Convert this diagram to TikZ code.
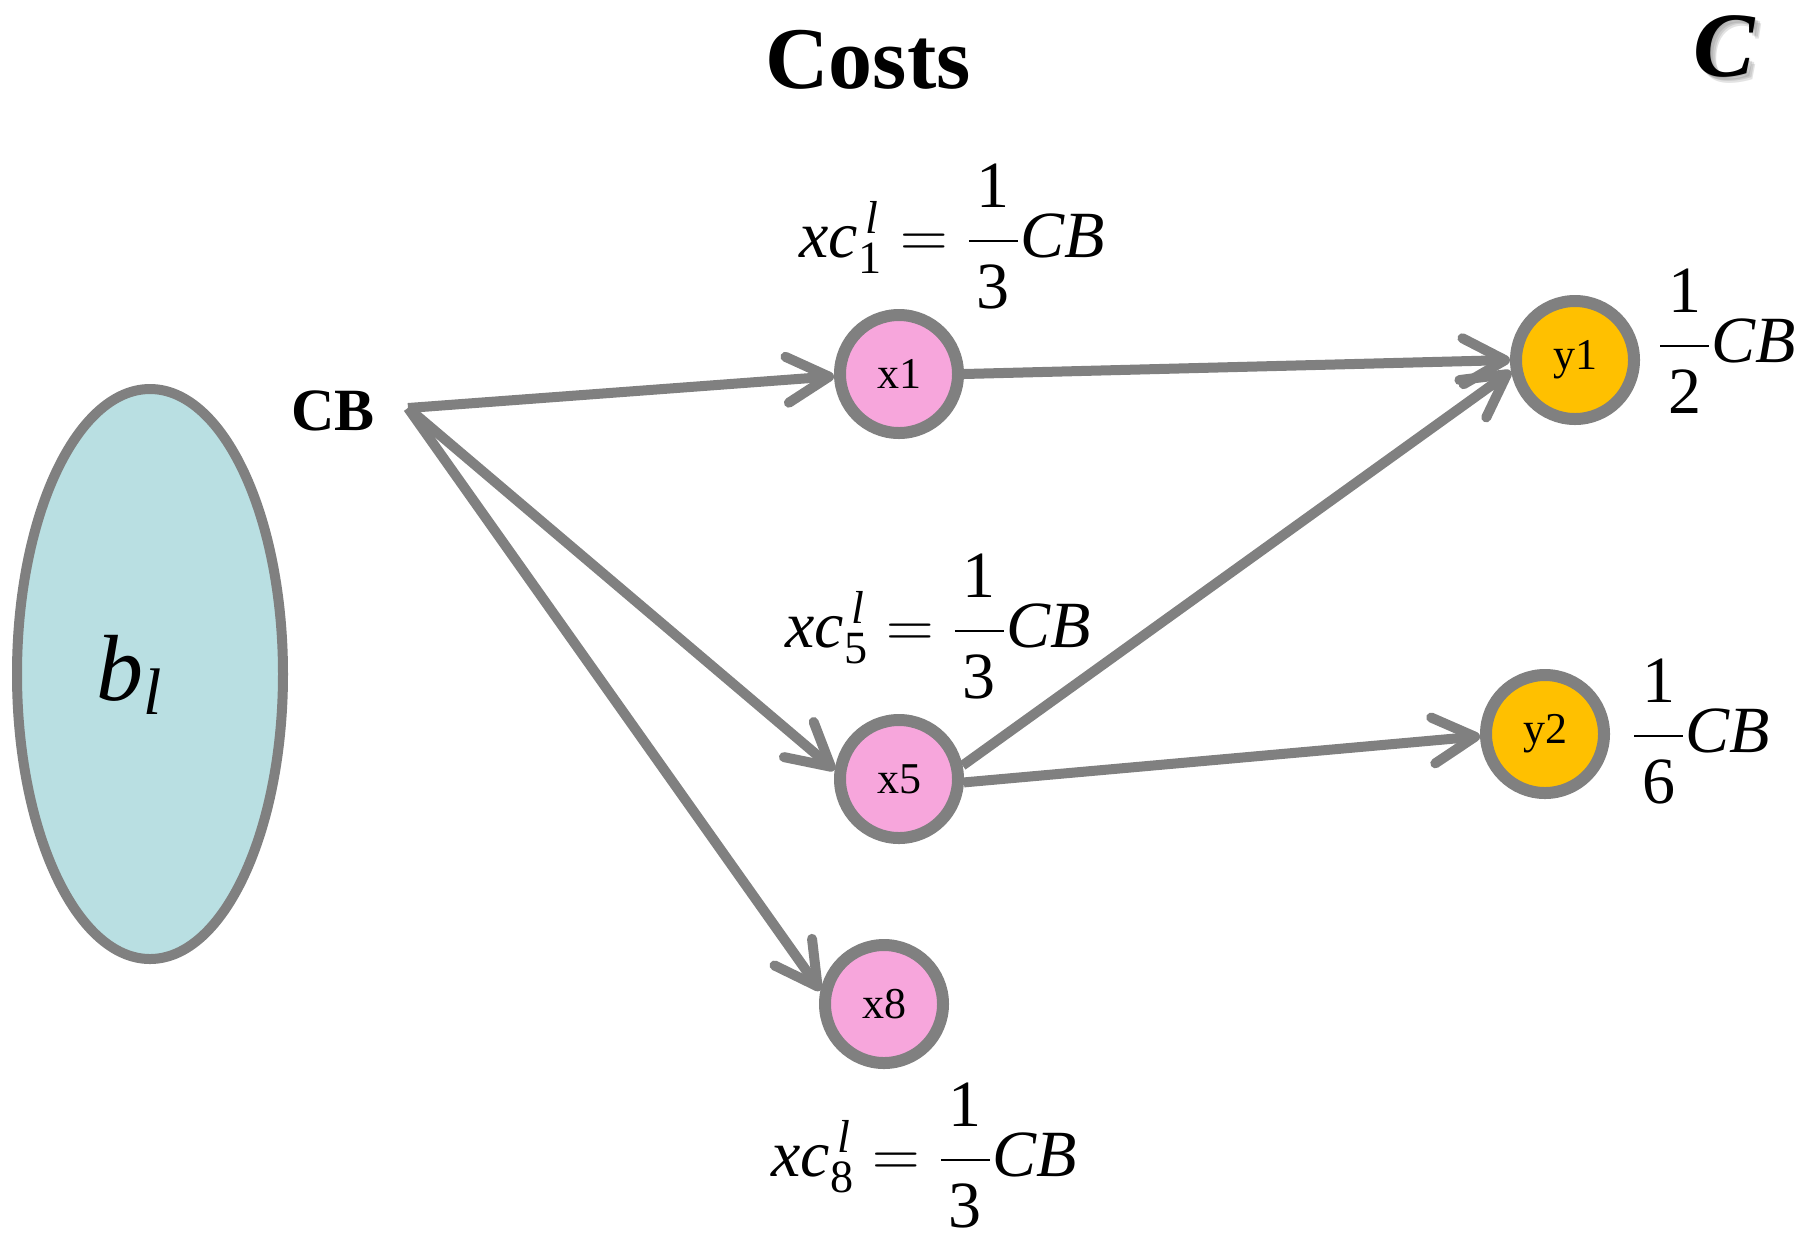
\RequirePackage{fix-cm}
\documentclass[tikz,border=0pt]{standalone}
\usepackage{amsmath}
\usepackage{fontspec}
\setmainfont{Liberation Serif}
\usetikzlibrary{arrows.meta,shapes.geometric}
\definecolor{edgegray}{HTML}{808080}
\definecolor{nodepink}{HTML}{F7A6DC}
\definecolor{nodegold}{HTML}{FFC000}
\definecolor{blobblue}{HTML}{B9DFE2}
\newcommand{\fml}{\fontsize{33}{38}\selectfont}
\newcommand{\numr}[1]{\raisebox{2.5pt}{\hspace{4pt}\textup{#1}\hspace{4pt}}}
\newcommand{\denr}[1]{\raisebox{-3pt}{\hspace{4pt}\textup{#1}\hspace{4pt}}}
\newcommand{\xclab}[1]{$\textit{xc}^{\,\textit{l}}_{\textup{#1}}=\dfrac{\numr{1}}{\denr{3}}\textit{CB}$}
\newcommand{\frlab}[1]{$\dfrac{\numr{1}}{\denr{#1}}\textit{CB}$}
\begin{document}
\begin{tikzpicture}[x=0.5pt,y=-0.5pt,
  vnode/.style={circle, draw=edgegray, line width=6pt, minimum size=59pt, inner sep=0pt,
    font=\fontsize{22}{26}\selectfont},
  xnode/.style={vnode, fill=nodepink},
  ynode/.style={vnode, fill=nodegold},
  edge/.style={draw=edgegray, line width=5pt,
    -{Straight Barb[length=21pt,width=23pt,round]}},
  formula/.style={anchor=base, inner sep=0pt, font=\fml}]
\useasboundingbox (0,0) rectangle (1803,1244);

% titles
\node (costs) [anchor=base, inner sep=0pt, font=\fontsize{44}{50}\selectfont\bfseries] at (868,88) {Costs};
\foreach \d in {1,2,3,4}{
  \node[anchor=base, inner sep=0pt, text=black!60, opacity=0.18,
    font=\fontsize{46}{52}\selectfont\bfseries\itshape] at (1724+\d*1.6,76+\d*1.6) {C};
}
\node (ctitle) [anchor=base, inner sep=0pt, font=\fontsize{46}{52}\selectfont\bfseries\itshape] at (1724,76) {C};

% ellipse
\node (blob) [ellipse, draw=edgegray, line width=5pt, fill=blobblue, minimum width=133pt, minimum height=285pt, inner sep=0pt] at (150,674) {};
\node (bltext) [anchor=base, inner sep=0pt, font=\fontsize{47}{54}\selectfont] at (130,700) {$\textit{b}_{\textit{l}}$};

% CB source
\node (cb) [anchor=base, inner sep=0pt, font=\fontsize{30}{34}\selectfont\bfseries] at (333,430) {CB};
\coordinate (cbpt) at (408,408);

% nodes
\node (x1) [xnode] at (899,374) {x1};
\node (x5) [xnode] at (899,779) {x5};
\node (x8) [xnode] at (884,1004) {x8};
\node (y1) [ynode] at (1575,360) {y1};
\node (y2) [ynode] at (1545,734) {y2};

% labels
\node (lx1) [formula] at (952,257) {\xclab{1}};
\node (lx5) [formula] at (938,647) {\xclab{5}};
\node (lx8) [formula] at (924,1176) {\xclab{8}};
\node (ly1) [formula] at (1727,362) {\frlab{2}};
\node (ly2) [formula] at (1701,752) {\frlab{6}};

% edges
\draw[edge] (cbpt) -- (x1.182);
\draw[edge] (cbpt) -- (x5.172);
\draw[edge] (cbpt) -- (x8.168);
\draw[edge] (x1.east) -- (y1.180);
\draw[edge] (x5.12) -- (y1.190);
\draw[edge] (x5.-3) -- (y2.182);
\end{tikzpicture}
\end{document}
